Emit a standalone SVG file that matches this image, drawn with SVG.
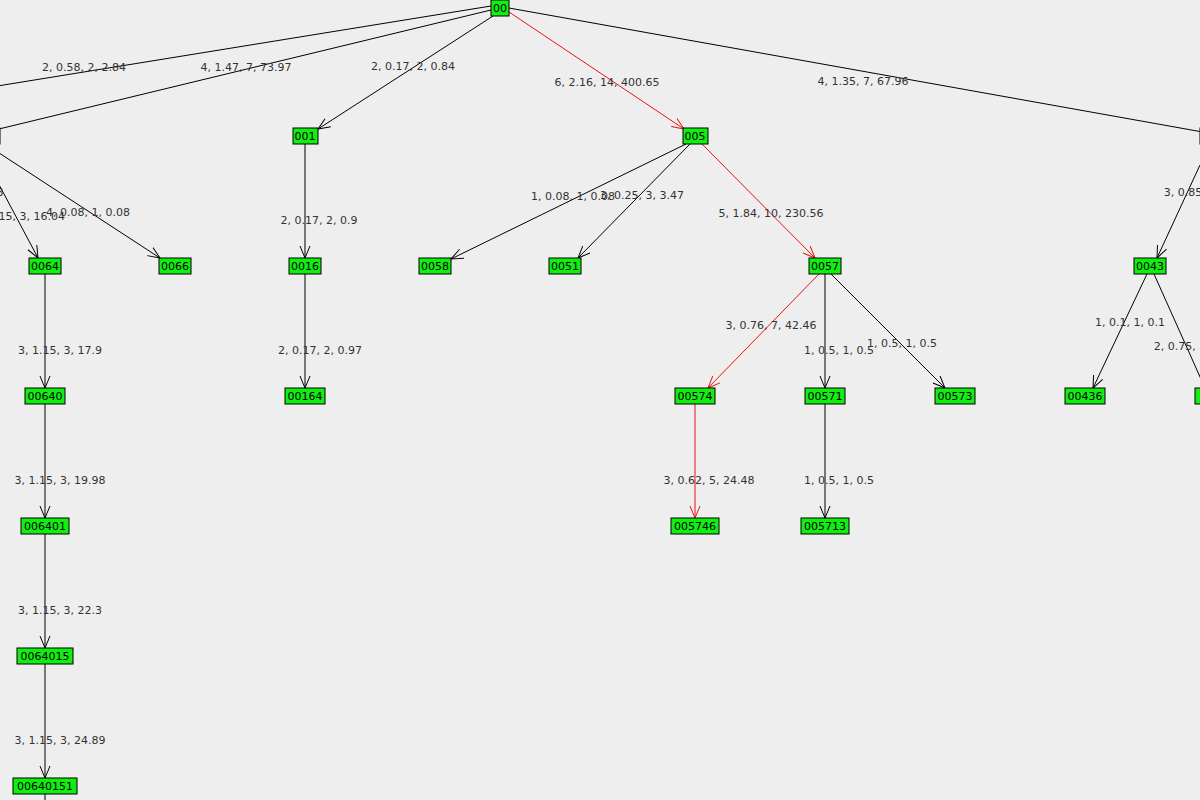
<svg xmlns="http://www.w3.org/2000/svg" width="1200" height="800" viewBox="0 0 1200 800">
<style>
text{font-family:"DejaVu Sans","Liberation Sans",sans-serif;font-size:11px}
.n rect{fill:#11ee11;stroke:#000;stroke-width:1}
.n text{fill:#000;text-anchor:middle}
.e line{stroke:#000;stroke-width:1;fill:none}
.e line.r{stroke:#ee1111}
.l text{fill:#333;text-anchor:middle}
</style>
<defs>
<marker id="a" markerWidth="14" markerHeight="14" refX="12" refY="6" orient="auto" markerUnits="userSpaceOnUse"><polyline points="0,1 12,6 0,11" fill="none" stroke="#000"/></marker>
<marker id="ar" markerWidth="14" markerHeight="14" refX="12" refY="6" orient="auto" markerUnits="userSpaceOnUse"><polyline points="0,1 12,6 0,11" fill="none" stroke="#ee1111"/></marker>
</defs>
<rect width="1200" height="800" fill="#eeeeee"/>
<g class="e">
<line x1="491" y1="6" x2="-200" y2="118"/>
<line x1="491" y1="10" x2="-30" y2="136"/>
<line x1="493" y1="16" x2="318" y2="129" marker-end="url(#a)"/>
<line class="r" x1="509" y1="12" x2="684" y2="129" marker-end="url(#ar)"/>
<line x1="509" y1="8" x2="1225" y2="136"/>
<line x1="-30" y1="130" x2="38" y2="258" marker-end="url(#a)"/>
<line x1="-30" y1="134" x2="160" y2="258" marker-end="url(#a)"/>
<line x1="305" y1="144" x2="305" y2="258" marker-end="url(#a)"/>
<line x1="686" y1="144" x2="451" y2="259" marker-end="url(#a)"/>
<line x1="690" y1="144" x2="578" y2="258" marker-end="url(#a)"/>
<line class="r" x1="702" y1="144" x2="815" y2="258" marker-end="url(#ar)"/>
<line x1="1200" y1="165" x2="1157" y2="258" marker-end="url(#a)"/>
<line x1="45" y1="274" x2="45" y2="388" marker-end="url(#a)"/>
<line x1="305" y1="274" x2="305" y2="388" marker-end="url(#a)"/>
<line class="r" x1="819" y1="274" x2="708" y2="388" marker-end="url(#ar)"/>
<line x1="825" y1="274" x2="825" y2="388" marker-end="url(#a)"/>
<line x1="831" y1="274" x2="945" y2="388" marker-end="url(#a)"/>
<line x1="1147" y1="274" x2="1093" y2="388" marker-end="url(#a)"/>
<line x1="1154" y1="274" x2="1205" y2="388"/>
<line x1="45" y1="404" x2="45" y2="518" marker-end="url(#a)"/>
<line class="r" x1="695" y1="404" x2="695" y2="518" marker-end="url(#ar)"/>
<line x1="825" y1="404" x2="825" y2="518" marker-end="url(#a)"/>
<line x1="45" y1="534" x2="45" y2="648" marker-end="url(#a)"/>
<line x1="45" y1="664" x2="45" y2="778" marker-end="url(#a)"/>
<line x1="45" y1="794" x2="45" y2="800"/>
</g>
<g class="l">
<text x="84" y="71">2, 0.58, 2, 2.84</text>
<text x="246" y="71">4, 1.47, 7, 73.97</text>
<text x="413" y="70">2, 0.17, 2, 0.84</text>
<text x="607" y="86">6, 2.16, 14, 400.65</text>
<text x="863" y="85">4, 1.35, 7, 67.96</text>
<text x="1190" y="196">3, 0.85, 3</text>
<text x="0" y="196">3</text>
<text x="30" y="220">.15, 3, 16.04</text>
<text x="88" y="216">4, 0.08, 1, 0.08</text>
<text x="319" y="224">2, 0.17, 2, 0.9</text>
<text x="573" y="200">1, 0.08, 1, 0.08</text>
<text x="642" y="199">3, 0.25, 3, 3.47</text>
<text x="771" y="217">5, 1.84, 10, 230.56</text>
<text x="60" y="354">3, 1.15, 3, 17.9</text>
<text x="320" y="354">2, 0.17, 2, 0.97</text>
<text x="771" y="329">3, 0.76, 7, 42.46</text>
<text x="839" y="354">1, 0.5, 1, 0.5</text>
<text x="902" y="347">1, 0.5, 1, 0.5</text>
<text x="1130" y="326">1, 0.1, 1, 0.1</text>
<text x="1180" y="350">2, 0.75, 3</text>
<text x="60" y="484">3, 1.15, 3, 19.98</text>
<text x="709" y="484">3, 0.62, 5, 24.48</text>
<text x="839" y="484">1, 0.5, 1, 0.5</text>
<text x="60" y="614">3, 1.15, 3, 22.3</text>
<text x="60" y="744">3, 1.15, 3, 24.89</text>
</g>
<g id="n00" class="n"><rect x="491" y="0" width="18" height="16"/><text x="500" y="12">00</text></g>
<g id="n001" class="n"><rect x="293" y="128" width="25" height="16"/><text x="305" y="140">001</text></g>
<g id="n005" class="n"><rect x="683" y="128" width="25" height="16"/><text x="695" y="140">005</text></g>
<g id="nL" class="n"><rect x="-60" y="128" width="60" height="16"/></g>
<g id="nR" class="n"><rect x="1200" y="128" width="40" height="16"/></g>
<g id="n0064" class="n"><rect x="29" y="258" width="32" height="16"/><text x="45" y="270">0064</text></g>
<g id="n0066" class="n"><rect x="159" y="258" width="32" height="16"/><text x="175" y="270">0066</text></g>
<g id="n0016" class="n"><rect x="289" y="258" width="32" height="16"/><text x="305" y="270">0016</text></g>
<g id="n0058" class="n"><rect x="419" y="258" width="32" height="16"/><text x="435" y="270">0058</text></g>
<g id="n0051" class="n"><rect x="549" y="258" width="32" height="16"/><text x="565" y="270">0051</text></g>
<g id="n0057" class="n"><rect x="809" y="258" width="32" height="16"/><text x="825" y="270">0057</text></g>
<g id="n0043" class="n"><rect x="1134" y="258" width="32" height="16"/><text x="1150" y="270">0043</text></g>
<g id="n00640" class="n"><rect x="25" y="388" width="40" height="16"/><text x="45" y="400">00640</text></g>
<g id="n00164" class="n"><rect x="285" y="388" width="40" height="16"/><text x="305" y="400">00164</text></g>
<g id="n00574" class="n"><rect x="675" y="388" width="40" height="16"/><text x="695" y="400">00574</text></g>
<g id="n00571" class="n"><rect x="805" y="388" width="40" height="16"/><text x="825" y="400">00571</text></g>
<g id="n00573" class="n"><rect x="935" y="388" width="40" height="16"/><text x="955" y="400">00573</text></g>
<g id="n00436" class="n"><rect x="1065" y="388" width="40" height="16"/><text x="1085" y="400">00436</text></g>
<g id="nR2" class="n"><rect x="1195" y="388" width="40" height="16"/></g>
<g id="n006401" class="n"><rect x="21" y="518" width="48" height="16"/><text x="45" y="530">006401</text></g>
<g id="n005746" class="n"><rect x="671" y="518" width="48" height="16"/><text x="695" y="530">005746</text></g>
<g id="n005713" class="n"><rect x="801" y="518" width="48" height="16"/><text x="825" y="530">005713</text></g>
<g id="n0064015" class="n"><rect x="17" y="648" width="56" height="16"/><text x="45" y="660">0064015</text></g>
<g id="n00640151" class="n"><rect x="13" y="778" width="64" height="16"/><text x="45" y="790">00640151</text></g>
</svg>
